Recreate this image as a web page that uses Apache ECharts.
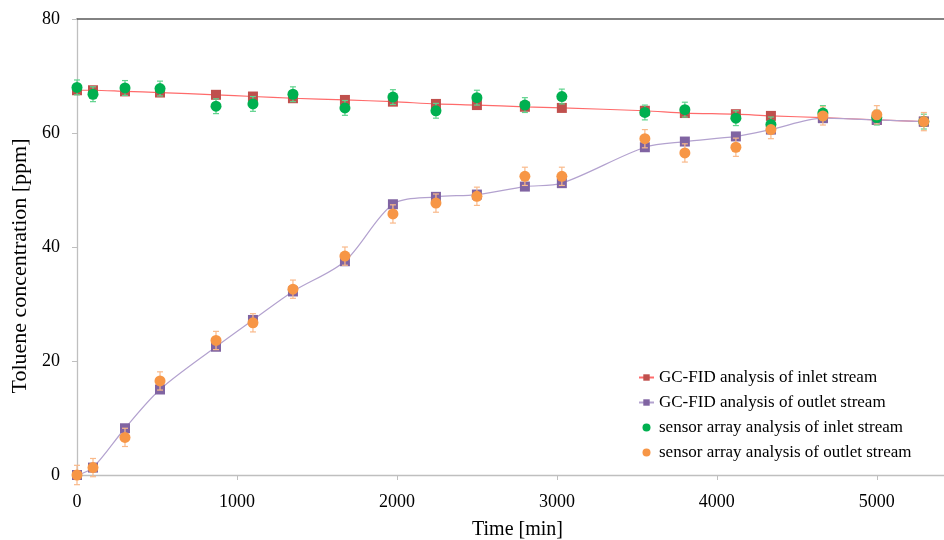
<!DOCTYPE html>
<html>
<head>
<meta charset="utf-8">
<script src="https://cdn.jsdelivr.net/npm/echarts@6/dist/echarts.min.js"></script>
<style>html,body{margin:0;padding:0;background:#fff}#c{width:944px;height:540px}</style>
</head>
<body>
<div id="c"></div>
<script>
// time points [min]
const gcInletTime  = [0, 100, 300, 519, 869, 1100, 1350, 1675, 1975, 2244, 2500, 2800, 3031, 3550, 3800, 4119, 4338, 4663, 5000, 5294];
const gcInletVal   = [67.5, 67.5, 67.3, 67.1, 66.7, 66.4, 66.1, 65.8, 65.5, 65.1, 64.9, 64.6, 64.4, 63.9, 63.5, 63.3, 63.0, 62.7, 62.3, 62.0];
const gcOutletVal  = [0, 1.3, 8.2, 15.0, 22.5, 27.2, 32.2, 37.5, 47.5, 48.8, 49.2, 50.6, 51.2, 57.5, 58.5, 59.4, 60.6, 62.6, 62.3, 62.0];
const snInletVal   = [68.0, 66.8, 67.9, 67.8, 64.7, 65.1, 66.8, 64.4, 66.3, 63.9, 66.2, 64.9, 66.4, 63.6, 64.1, 62.6, 61.5, 63.5, 62.7, 62.0];
const snInletErr   = [1.3, 1.3, 1.3, 1.3, 1.3, 1.3, 1.3, 1.3, 1.3, 1.3, 1.3, 1.3, 1.3, 1.3, 1.3, 1.3, 1.3, 1.3, 1.3, 1.3];
const snOutletVal  = [0, 1.3, 6.6, 16.5, 23.6, 26.7, 32.6, 38.4, 45.8, 47.7, 48.9, 52.4, 52.4, 59.0, 56.5, 57.5, 60.6, 63.0, 63.2, 62.0];
const snOutletErr  = [1.7, 1.6, 1.6, 1.6, 1.6, 1.6, 1.6, 1.6, 1.6, 1.6, 1.6, 1.6, 1.6, 1.6, 1.6, 1.6, 1.6, 1.6, 1.6, 1.6];
const xTicks = [0, 1000, 2000, 3000, 4000, 5000];
const yTicks = [0, 20, 40, 60, 80];

const names = ['GC-FID analysis of inlet stream', 'GC-FID analysis of outlet stream',
               'sensor array analysis of inlet stream', 'sensor array analysis of outlet stream'];

const pair = (t, v) => t.map((x, i) => [x, v[i]]);
const errData = (t, v, e) => t.map((x, i) => [x, v[i] - e[i], v[i] + e[i]]);

const FONT = 'Liberation Serif';

function errRender(color) {
  return function (params, api) {
    const x = api.value(0);
    const lo = api.coord([x, api.value(1)]);
    const hi = api.coord([x, api.value(2)]);
    const w = 3;
    const st = { stroke: color, lineWidth: 1.2 };
    return {
      type: 'group',
      children: [
        { type: 'line', shape: { x1: lo[0], y1: lo[1], x2: hi[0], y2: hi[1] }, style: st },
        { type: 'line', shape: { x1: lo[0] - w, y1: lo[1], x2: lo[0] + w, y2: lo[1] }, style: st },
        { type: 'line', shape: { x1: hi[0] - w, y1: hi[1], x2: hi[0] + w, y2: hi[1] }, style: st }
      ]
    };
  };
}

const chart = echarts.init(document.getElementById('c'), null, { renderer: 'canvas' });
chart.setOption({
  animation: false,
  backgroundColor: '#ffffff',
  textStyle: { fontFamily: FONT },
  grid: { left: 77, top: 19, right: 0, bottom: 65, containLabel: false, outerBoundsMode: 'none' },
  legend: {
    data: names,
    orient: 'vertical',
    left: 633,
    top: 364,
    itemGap: 8,
    itemWidth: 15,
    itemHeight: 8,
    textStyle: { fontFamily: FONT, fontSize: 17, lineHeight: 17, color: '#000' }
  },
  xAxis: [{
    type: 'value',
    min: 0, max: 5420, interval: 1000,
    name: 'Time [min]',
    nameLocation: 'middle',
    nameGap: 45,
    nameTextStyle: { fontFamily: FONT, fontSize: 20, color: '#000', padding: [0, 0, 0, 14] },
    axisLine: { show: true, onZero: false, lineStyle: { color: '#bfbfbf', width: 1.3 } },
    axisTick: { show: true, length: 5, lineStyle: { color: '#bfbfbf' } },
    axisLabel: {
      margin: 18, fontFamily: FONT, fontSize: 18, color: '#000',
      showMaxLabel: false,
      formatter: v => (xTicks.indexOf(v) >= 0 ? String(v) : '')
    },
    splitLine: { show: false }
  }, {
    type: 'value',
    position: 'top',
    min: 0, max: 5420,
    axisLine: { show: true, onZero: false, lineStyle: { color: '#595959', width: 1.5 } },
    axisTick: { show: false },
    axisLabel: { show: false },
    splitLine: { show: false }
  }],
  yAxis: {
    type: 'value',
    min: 0, max: 80, interval: 20,
    name: 'Toluene concentration [ppm]',
    nameLocation: 'middle',
    nameGap: 46,
    nameTextStyle: { fontFamily: FONT, fontSize: 22, color: '#000', padding: [0, 38, 0, 0] },
    axisLine: { show: true, onZero: false, lineStyle: { color: '#bfbfbf', width: 1.3 } },
    axisTick: { show: true, length: 5, lineStyle: { color: '#bfbfbf' } },
    axisLabel: {
      margin: 17, fontFamily: FONT, fontSize: 18, color: '#000',
      formatter: v => (yTicks.indexOf(v) >= 0 ? String(v) : '')
    },
    splitLine: { show: false }
  },
  series: [
    {
      name: names[0], type: 'line', data: pair(gcInletTime, gcInletVal),
      smooth: 0.3, symbol: 'rect', symbolSize: 10,
      lineStyle: { color: '#ff6b6b', width: 1.2 },
      itemStyle: { color: '#c0504d' },
      z: 2
    },
    {
      name: names[1], type: 'line', data: pair(gcInletTime, gcOutletVal),
      smooth: 0.3, symbol: 'rect', symbolSize: 10,
      lineStyle: { color: '#b3a2cf', width: 1.2 },
      itemStyle: { color: '#8064a2' },
      z: 2
    },
    {
      type: 'custom', data: errData(gcInletTime, snInletVal, snInletErr),
      renderItem: errRender('#5fd38d'), z: 3, silent: true,
      encode: { x: 0, y: [1, 2] }
    },
    {
      type: 'custom', data: errData(gcInletTime, snOutletVal, snOutletErr),
      renderItem: errRender('#f9b98a'), z: 3, silent: true,
      encode: { x: 0, y: [1, 2] }
    },
    {
      name: names[2], type: 'scatter', data: pair(gcInletTime, snInletVal),
      symbol: 'circle', symbolSize: 11,
      itemStyle: { color: '#00b050', opacity: 1 },
      z: 4
    },
    {
      name: names[3], type: 'scatter', data: pair(gcInletTime, snOutletVal),
      symbol: 'circle', symbolSize: 11,
      itemStyle: { color: '#f79646', opacity: 1 },
      z: 5
    }
  ]
});
</script>
</body>
</html>
